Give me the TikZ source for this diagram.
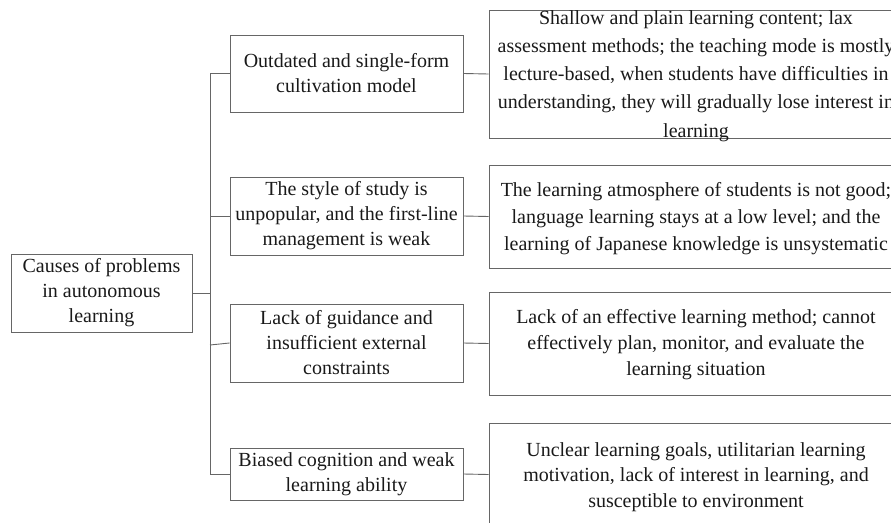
\documentclass[tikz,border=0pt]{standalone}
\usepackage{fontspec}
\setmainfont{Liberation Serif}
\begin{document}
\begin{tikzpicture}[x=1pt,y=-1pt,
  box/.style={draw=black!60, line width=0.9pt, rectangle, inner sep=0pt, align=center,
    text=black!90, font=\fontsize{20}{25}\selectfont},
  frame/.style={draw=black!60, line width=0.9pt, rectangle, inner sep=0pt,
    minimum width=414pt},
  txt/.style={inner sep=0pt, align=center, text=black!90},
  link/.style={draw=black!60, line width=0.9pt}]
  \useasboundingbox (0,0) rectangle (891,522);
  \clip (0,0) rectangle (891,522);

  % root
  \node[box, minimum width=181pt, minimum height=78pt] (root) at (101.5,293)
    {Causes of problems\\in autonomous\\learning};

  % causes
  \node[box, minimum width=233pt, minimum height=77pt] (m1) at (346.5,73.5)
    {Outdated and single-form\\cultivation model};
  \node[box, minimum width=233pt, minimum height=78pt] (m2) at (346.5,216)
    {The style of study is\\unpopular, and the first-line\\management is weak};
  \node[box, minimum width=233pt, minimum height=78pt] (m3) at (346.5,343)
    {Lack of guidance and\\insufficient external\\constraints};
  \node[box, minimum width=233pt, minimum height=52pt] (m4) at (346.5,474)
    {Biased cognition and weak\\learning ability};

  % details: frames, then their texts
  \node[frame, minimum height=128pt] (r1) at (696,74) {};
  \node[frame, minimum height=103pt] (r2) at (696,216.5) {};
  \node[frame, minimum height=103pt] (r3) at (696,343.5) {};
  \node[frame, minimum height=103pt] (r4) at (696,474.5) {};

  \node[txt, font=\fontsize{20}{28.2}\selectfont] (r1t) at (696,76)
    {Shallow and plain learning content; lax\\assessment methods; the teaching mode is mostly\\lecture-based, when students have difficulties in\\understanding, they will gradually lose interest in\\learning};
  \node[txt, font=\fontsize{20}{27}\selectfont] (r2t) at (696,219)
    {The learning atmosphere of students is not good;\\language learning stays at a low level; and the\\learning of Japanese knowledge is unsystematic};
  \node[txt, font=\fontsize{20}{26}\selectfont] (r3t) at (696,345)
    {Lack of an effective learning method; cannot\\effectively plan, monitor, and evaluate the\\learning situation};
  \node[txt, font=\fontsize{20}{25.5}\selectfont] (r4t) at (696,477)
    {Unclear learning goals, utilitarian learning\\motivation, lack of interest in learning, and\\susceptible to environment};

  % trunk
  \coordinate (trunk) at (210,0);
  \draw[link] (root.east) -- (root.east -| trunk);
  \draw[link] (m1.west) -- (m1.west -| trunk) -- (m4.west -| trunk) -- (m4.west);
  \draw[link] (m2.west) -- (m2.west -| trunk);
  \draw[link] (m3.west) -- ([yshift=-2pt]m3.west -| trunk);

  % cause to detail
  \draw[link] (m1.east) -- (r1.west);
  \draw[link] (m2.east) -- (r2.west);
  \draw[link] (m3.east) -- (r3.west);
  \draw[link] (m4.east) -- (r4.west);
\end{tikzpicture}
\end{document}
